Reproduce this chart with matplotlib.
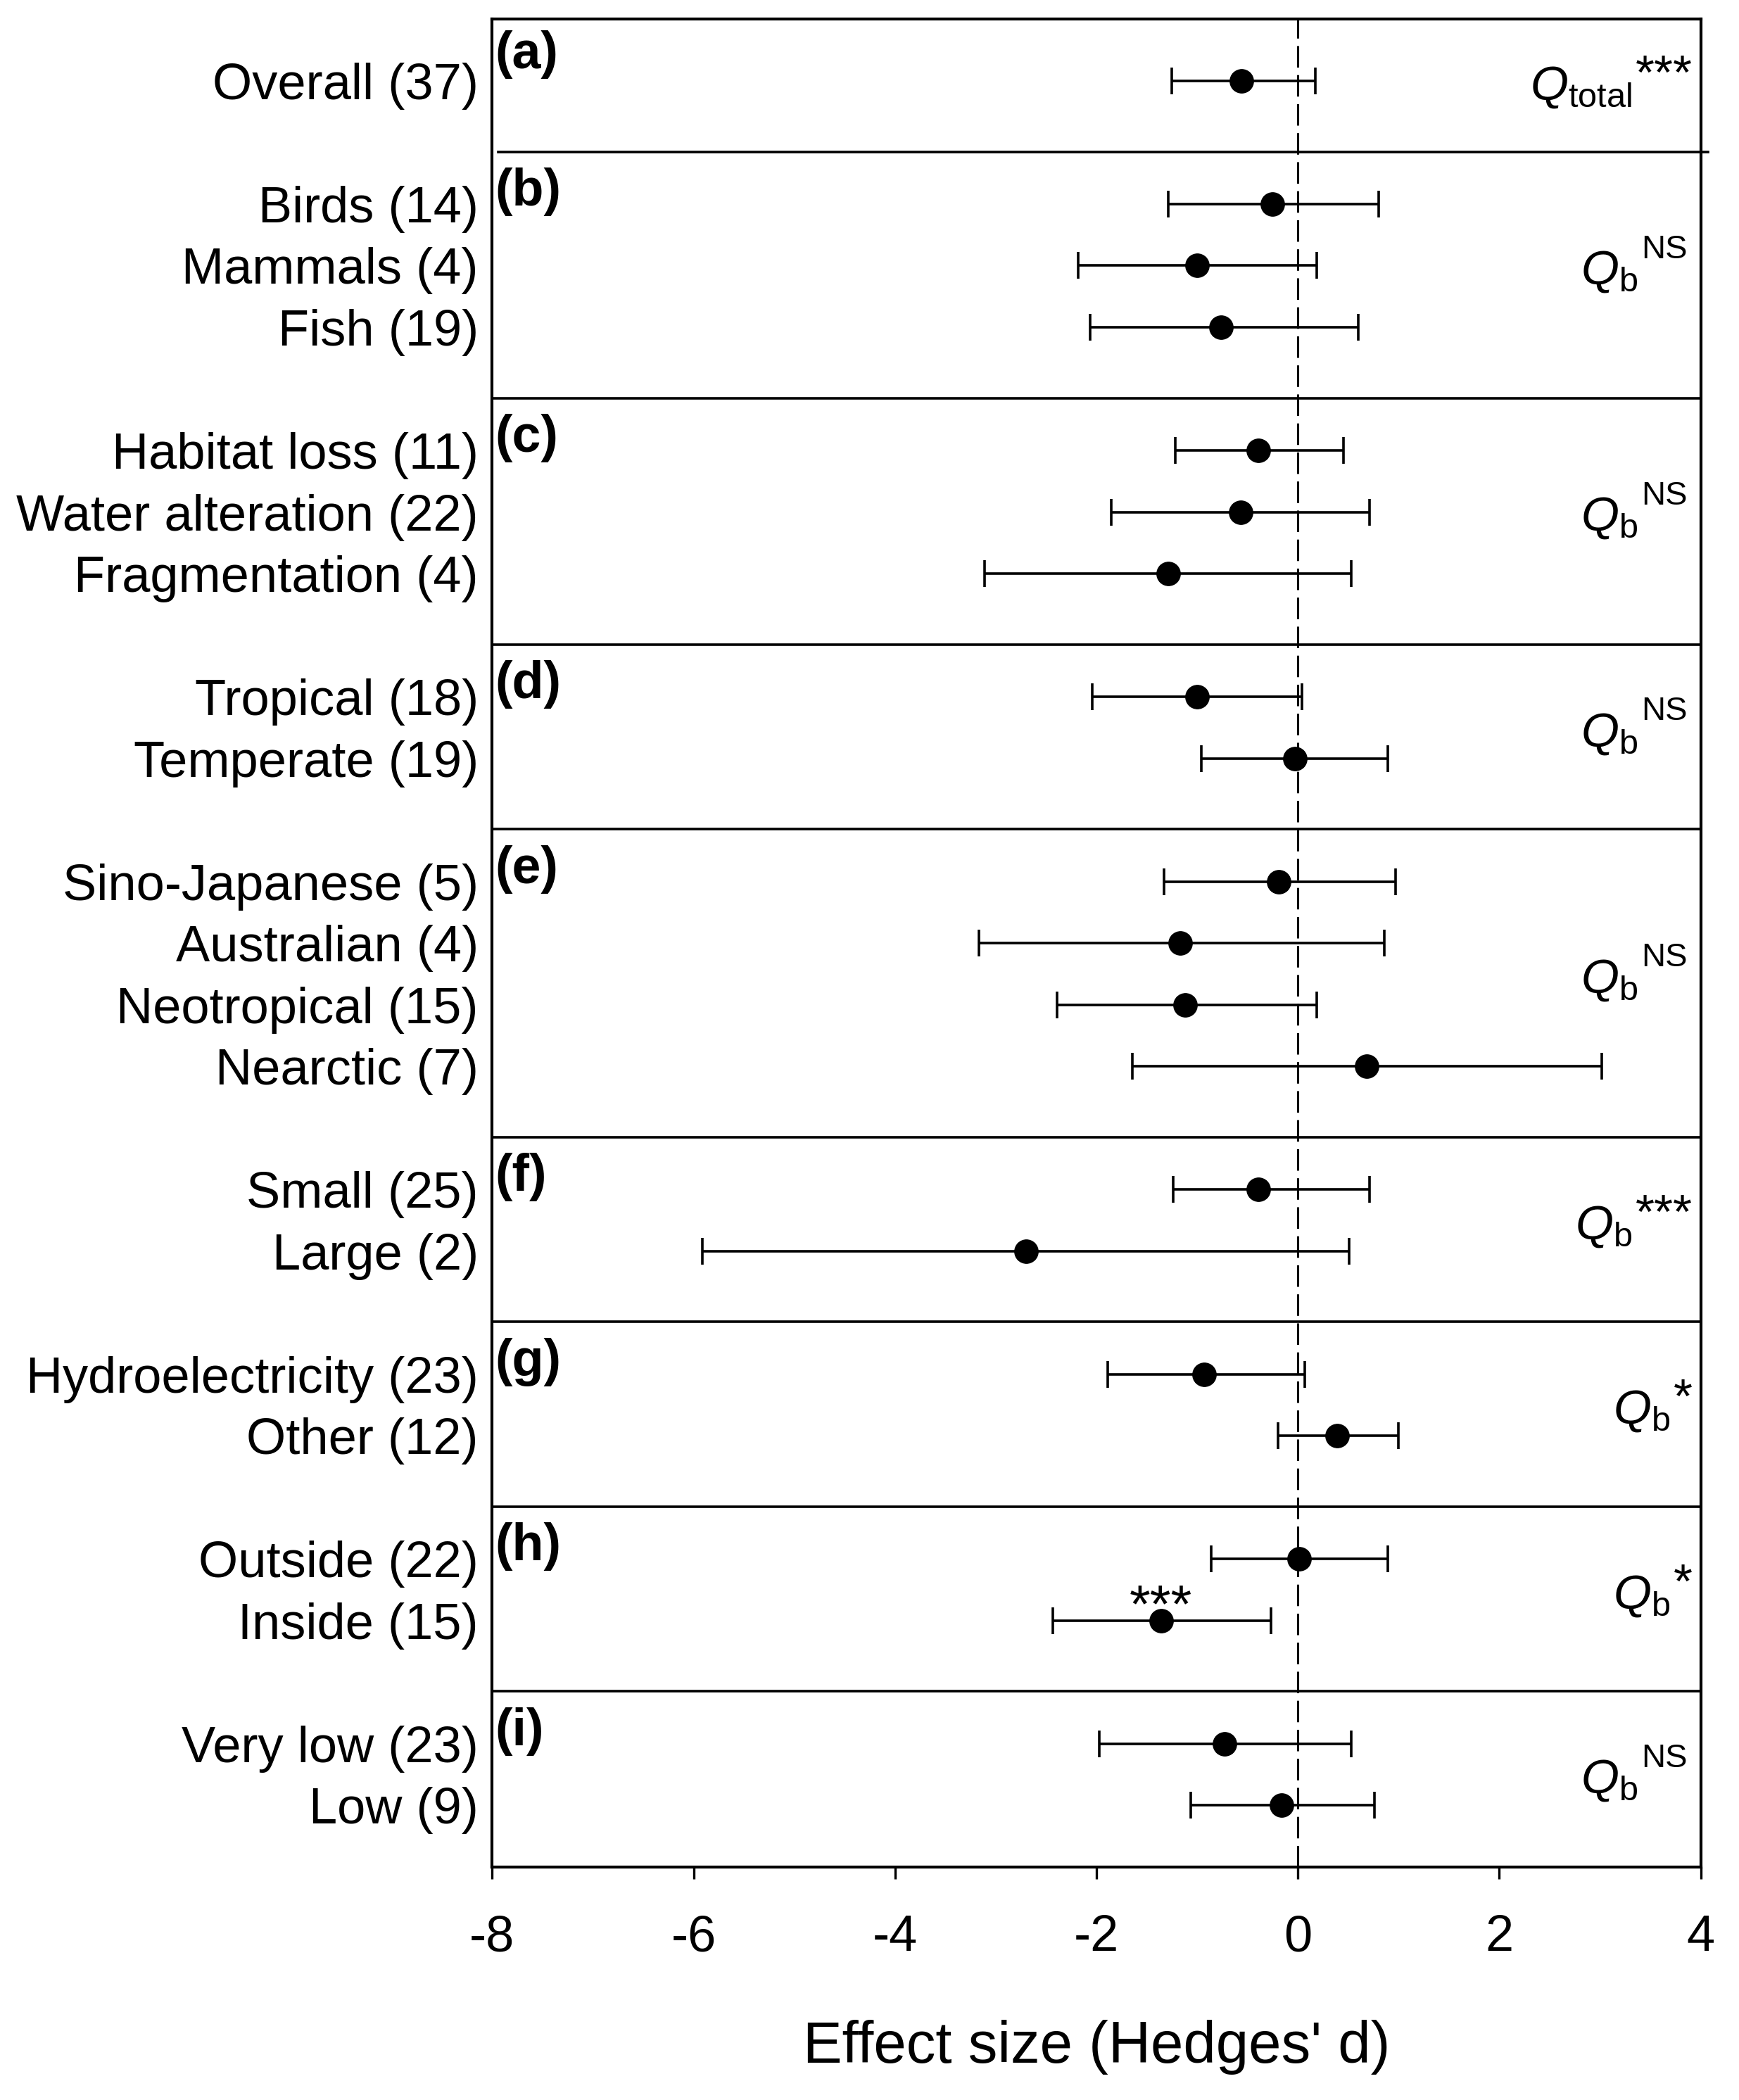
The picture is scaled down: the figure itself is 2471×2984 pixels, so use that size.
import matplotlib
matplotlib.use("Agg")
import matplotlib.pyplot as plt
import numpy as np

# Data
labels = ['Overall (37)',
          'Birds (14)', 'Mammals (4)', 'Fish (19)',
          'Habitat loss (11)', 'Water alteration (22)', 'Fragmentation (4)',
          'Tropical (18)', 'Temperate (19)',
          'Sino-Japanese (5)', 'Australian (4)', 'Neotropical (15)', 'Nearctic (7)',
          'Small (25)', 'Large (2)',
          'Hydroelectricity (23)', 'Other (12)',
          'Outside (22)', 'Inside (15)',
          'Very low (23)', 'Low (9)']
group_sizes = [1, 3, 3, 2, 4, 2, 2, 2, 2]
panel_letters = ['(a)', '(b)', '(c)', '(d)', '(e)', '(f)', '(g)', '(h)', '(i)']
q_names = ['total', 'b', 'b', 'b', 'b', 'b', 'b', 'b', 'b']
q_signif = ['***', 'NS', 'NS', 'NS', 'NS', '***', '*', '*', 'NS']

mean = np.array([-0.56,
                 -0.25, -1.00, -0.76,
                 -0.39, -0.57, -1.29,
                 -1.00, -0.03,
                 -0.19, -1.17, -1.12, 0.68,
                 -0.39, -2.70,
                 -0.93, 0.39,
                 0.01, -1.36,
                 -0.73, -0.16])
lower = np.array([-1.25,
                  -1.29, -2.18, -2.06,
                  -1.22, -1.85, -3.11,
                  -2.04, -0.96,
                  -1.33, -3.17, -2.39, -1.64,
                  -1.24, -5.91,
                  -1.89, -0.20,
                  -0.86, -2.43,
                  -1.97, -1.06])
upper = np.array([0.17,
                  0.80, 0.19, 0.60,
                  0.45, 0.71, 0.53,
                  0.04, 0.89,
                  0.97, 0.86, 0.19, 3.02,
                  0.71, 0.51,
                  0.07, 1.00,
                  0.89, -0.27,
                  0.53, 0.76])
# individual effect marked as significant
flag_label = 'Inside (15)'
flag_text = '***'

# Fonts
plt.rcParams['font.family'] = ['Liberation Sans', 'DejaVu Sans']
plt.rcParams['mathtext.fontset'] = 'custom'
plt.rcParams['mathtext.rm'] = 'Liberation Sans'
plt.rcParams['mathtext.it'] = 'Liberation Sans:italic'
plt.rcParams['axes.unicode_minus'] = False

# row positions: groups separated by one empty row
rows = []
starts = []
pos = 1
for n in group_sizes:
    starts.append(pos)
    rows.extend(range(pos, pos + n))
    pos += n + 1
rows = np.array(rows, dtype=float)

fig = plt.figure(figsize=(24.71, 29.84), dpi=100)
ax = fig.add_axes([0.283, 0.111, 0.695, 0.8798])

ax.axvline(0, color='k', lw=2.2, ls=(0, (10, 3.5)), zorder=1)
ax.errorbar(mean, rows, xerr=[mean - lower, upper - mean], fmt='o', color='k',
            ms=24, elinewidth=2.6, capsize=14, capthick=2.6, zorder=3)

ax.set_xlim(-8, 4)
ax.set_ylim(pos - 1, 0)

# group separators
for gi, s in enumerate(starts[1:]):
    y = s - 0.85
    if gi == 0:
        ax.plot([0.005, 1.006], [y, y], color='k', lw=2.6,
                transform=ax.get_yaxis_transform(), clip_on=False)
    else:
        ax.axhline(y, color='k', lw=2.6)

# panel letters and Q statistics
for gi, s in enumerate(starts):
    ly = 0.57 if gi == 0 else s - 0.2
    ax.text(-7.97, ly, panel_letters[gi], fontsize=53, fontweight='bold',
            ha='left', va='center')
    base = s + (group_sizes[gi] - 1) / 2 + 0.3
    sig = q_signif[gi]
    if sig == 'NS':
        sup = ax.text(3.87, base - 0.42, sig, fontsize=34, ha='right', va='baseline')
    else:
        sup = ax.text(3.92, base - 0.18, sig, fontsize=50, ha='right', va='baseline')
    ax.annotate(r'$Q_{\mathrm{%s}}$' % q_names[gi], xy=(0, base),
                xycoords=(sup, 'data'), xytext=(-4, 0), textcoords='offset points',
                fontsize=50, ha='right', va='baseline')

fi = labels.index(flag_label)
ax.text(mean[fi], rows[fi] + 0.02, flag_text, fontsize=55, ha='center', va='baseline')

ax.set_yticks(rows)
ax.set_yticklabels(labels, fontsize=52)
ax.tick_params(axis='y', length=0, pad=14)
ax.set_xticks(np.arange(-8, 5, 2))
ax.tick_params(axis='x', direction='out', length=12.5, width=2.4, labelsize=52, pad=36)

for sp in ax.spines.values():
    sp.set_linewidth(3)

ax.set_xlabel("Effect size (Hedges' d)", fontsize=60, labelpad=60)

fig.savefig('out.png', dpi=100)
